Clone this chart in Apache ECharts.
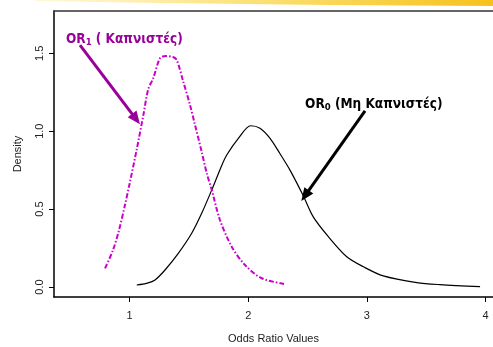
<!DOCTYPE html>
<html>
<head>
<meta charset="utf-8">
<script src="https://cdn.jsdelivr.net/npm/echarts@6/dist/echarts.min.js"></script>
<style>
  html, body { margin: 0; padding: 0; background: #ffffff; }
  #chart { width: 493px; height: 347px; }
</style>
</head>
<body>
<div id="chart"></div>
<script>
// Density of the odds ratio, smokers (OR1) and non-smokers (OR0)
const smokersX = [0.794, 0.86, 0.91, 0.96, 1.00, 1.06, 1.116, 1.158, 1.20, 1.257, 1.307, 1.366, 1.398, 1.453, 1.51, 1.552, 1.608, 1.65, 1.693, 1.762, 1.861, 1.973, 2.114, 2.31];
const smokersY = [0.12, 0.235, 0.36, 0.52, 0.66, 0.88, 1.10, 1.27, 1.34, 1.468, 1.483, 1.476, 1.457, 1.318, 1.168, 1.04, 0.868, 0.732, 0.623, 0.43, 0.259, 0.141, 0.056, 0.019];

const nonSmokersX = [1.061, 1.15, 1.215, 1.299, 1.411, 1.524, 1.608, 1.693, 1.777, 1.819, 1.917, 2.021, 2.099, 2.184, 2.268, 2.352, 2.464, 2.548, 2.675, 2.83, 2.97, 3.138, 3.42, 3.616, 3.953];
const nonSmokersY = [0.013, 0.025, 0.045, 0.109, 0.216, 0.345, 0.473, 0.623, 0.78, 0.847, 0.954, 1.035, 1.019, 0.954, 0.855, 0.75, 0.585, 0.45, 0.323, 0.194, 0.13, 0.071, 0.028, 0.015, 0.002];

const xTicks = [1, 2, 3, 4];
const yTicks = [0, 0.5, 1.0, 1.5];

// Annotation arrows: [startX, startY, tipX, tipY] in data units
const smokersArrow = [0.583, 1.553, 1.055, 1.078];
const nonSmokersArrow = [2.984, 1.130, 2.479, 0.586];
// Annotation text anchors: [leftX, middleY] in data units
const smokersLabelAt = [0.465, 1.585];
const nonSmokersLabelAt = [2.479, 1.162];

const pairs = (xs, ys) => xs.map((x, i) => [x, ys[i]]);

const tickFont = { fontFamily: 'Liberation Sans, Arial, sans-serif', fontSize: 11, color: '#222' };

const chart = echarts.init(document.getElementById('chart'), null, { renderer: 'canvas' });

function arrowLine(a, color) {
  return {
    silent: true,
    symbol: ['none', 'triangle'],
    symbolSize: [11, 13],
    label: { show: false },
    emphasis: { disabled: true },
    itemStyle: { color: color },
    lineStyle: { color: color, width: 3, type: 'solid' },
    data: [[{ coord: [a[0], a[1]] }, { coord: [a[2], a[3]] }]]
  };
}

chart.setOption({
  animation: false,
  backgroundColor: '#ffffff',
  grid: { left: 54, top: 11, right: 0, bottom: 50, containLabel: false, outerBoundsMode: 'none' },
  xAxis: [{
    type: 'value',
    min: 0.364,
    max: 4.062,
    name: 'Odds Ratio Values',
    nameLocation: 'middle',
    nameGap: 36,
    nameTextStyle: tickFont,
    axisLine: { show: true, onZero: false, lineStyle: { color: '#000', width: 1.5 } },
    axisTick: { show: true, length: 5, customValues: xTicks, lineStyle: { color: '#000' } },
    axisLabel: { customValues: xTicks, margin: 13, formatter: v => String(v), ...tickFont },
    splitLine: { show: false }
  }, {
    type: 'value',
    position: 'top',
    min: 0.364,
    max: 4.062,
    axisLine: { show: true, onZero: false, lineStyle: { color: '#333', width: 1.5 } },
    axisTick: { show: false },
    axisLabel: { show: false },
    splitLine: { show: false }
  }],
  yAxis: {
    type: 'value',
    min: -0.0642,
    max: 1.7715,
    name: 'Density',
    nameLocation: 'middle',
    nameRotate: 90,
    nameGap: 31,
    nameTextStyle: tickFont,
    axisLine: { show: true, onZero: false, lineStyle: { color: '#000', width: 1.5 } },
    axisTick: { show: true, length: 5, customValues: yTicks, lineStyle: { color: '#000' } },
    axisLabel: { customValues: yTicks, rotate: 90, margin: 9, formatter: v => v.toFixed(1), ...tickFont },
    splitLine: { show: false }
  },
  series: [{
    name: 'OR0',
    type: 'line',
    data: pairs(nonSmokersX, nonSmokersY),
    smooth: 0.3,
    showSymbol: false,
    silent: true,
    lineStyle: { color: '#000000', width: 1.2 },
    markLine: arrowLine(nonSmokersArrow, '#000000')
  }, {
    name: 'OR1',
    type: 'line',
    data: pairs(smokersX, smokersY),
    smooth: 0.3,
    showSymbol: false,
    silent: true,
    lineStyle: { color: '#cc00cc', width: 2, type: [5, 2, 1.5, 2] },
    markLine: arrowLine(smokersArrow, '#990099')
  }]
});

// Text annotations placed through the grid's coordinate system
const labelFont = 'DejaVu Sans Condensed, DejaVu Sans, sans-serif';
function annotation(at, parts, color) {
  const p = chart.convertToPixel({ gridIndex: 0 }, at);
  return {
    type: 'text',
    left: p[0],
    top: p[1] - 8,
    z: 10,
    style: {
      rich: {
        b: { fontFamily: labelFont, fontWeight: 'bold', fontSize: 13.5, fill: color, lineHeight: 16 },
        s: { fontFamily: labelFont, fontWeight: 'bold', fontSize: 9.5, fill: color, lineHeight: 16, verticalAlign: 'bottom', padding: [5, 0, 0, 0] }
      },
      text: parts
    }
  };
}

chart.setOption({
  graphic: [
    {
      // brush stroke along the top edge of the slide
      type: 'polygon',
      z: 0,
      shape: { points: [[35, 0], [493, 0], [493, 6], [330, 5], [160, 3], [35, 1]] },
      style: {
        fill: new echarts.graphic.LinearGradient(0, 0, 1, 0, [
          { offset: 0, color: 'rgba(255,236,160,0.4)' },
          { offset: 0.45, color: '#fbe27a' },
          { offset: 1, color: '#f6c21c' }
        ])
      }
    },
    annotation(smokersLabelAt, '{b|OR}{s|1}{b| ( Καπνιστές)}', '#990099'),
    annotation(nonSmokersLabelAt, '{b|OR}{s|0}{b| (Μη Καπνιστές)}', '#000000')
  ]
});
</script>
</body>
</html>
